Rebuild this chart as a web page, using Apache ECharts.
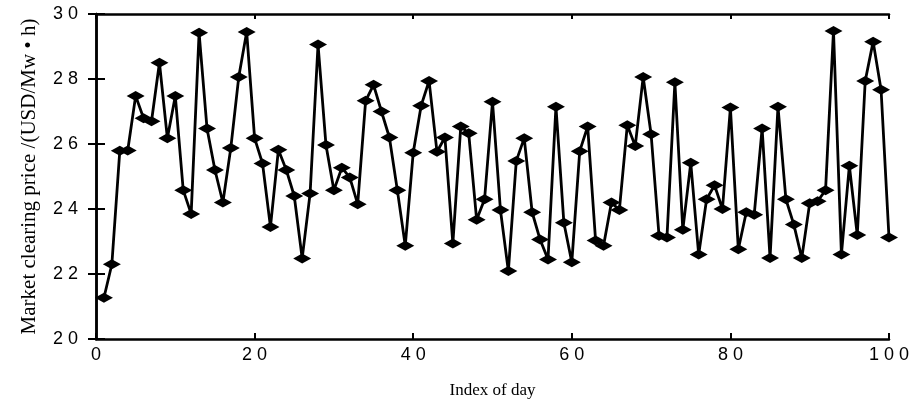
<!DOCTYPE html>
<html>
<head>
<meta charset="utf-8">
<script src="https://cdn.jsdelivr.net/npm/echarts@6/dist/echarts.min.js"></script>
<style>
  html, body { margin: 0; padding: 0; background: #fff; }
  #chart { width: 913px; height: 404px; }
</style>
</head>
<body>
<div id="chart"></div>
<script>
// day index 1..100 and market clearing price
const days = Array.from({ length: 100 }, (_, i) => i + 1)
const prices = [
  21.27, 22.3, 25.79, 25.8, 27.48, 26.79, 26.7, 28.5, 26.18, 27.48,
  24.58, 23.85, 29.42, 26.48, 25.2, 24.2, 25.88, 28.06, 29.45, 26.18,
  25.4, 23.45, 25.82, 25.2, 24.4, 22.48, 24.48, 29.06, 25.97, 24.58,
  25.27, 24.97, 24.15, 27.33, 27.82, 27.0, 26.2, 24.58, 22.87, 25.73,
  27.18, 27.94, 25.76, 26.2, 22.94, 26.54, 26.33, 23.67, 24.3, 27.3,
  23.97, 22.09, 25.48, 26.18, 23.9, 23.06, 22.45, 27.15, 23.58, 22.36,
  25.78, 26.54, 23.03, 22.87, 24.2, 23.97, 26.58, 25.94, 28.06, 26.3,
  23.18, 23.12, 27.9, 23.36, 25.42, 22.6, 24.3, 24.73, 24.0, 27.12,
  22.76, 23.9, 23.82, 26.48, 22.49, 27.15, 24.3, 23.52, 22.49, 24.18,
  24.24, 24.58, 29.48, 22.6, 25.33, 23.2, 27.94, 29.15, 27.67, 23.12
]
const xTicks = [0, 20, 40, 60, 80, 100]
const yTicks = [20, 22, 24, 26, 28, 30]

// tick labels in the figure are printed with spaced digits, e.g. "2 0"
const spaced = v => String(v).split('').join(' ')

const chart = echarts.init(document.getElementById('chart'))

const tickLabel = {
    fontFamily: 'Liberation Sans',
    fontSize: 18,
    color: '#000'
}

const option = {
    animation: false,
    backgroundColor: '#fff',
    grid: {
        left: 96,
        right: 24,
        top: 14,
        bottom: 60
    },
    xAxis: [
        {
            type: 'value',
            min: xTicks[0],
            max: xTicks[xTicks.length - 1],
            interval: 20,
            name: 'Index of day',
            nameLocation: 'middle',
            nameGap: 43,
            nameTextStyle: { fontFamily: 'Liberation Serif', fontSize: 17, color: '#000' },
            axisLine: { lineStyle: { color: '#000', width: 2.5 } },
            axisTick: { inside: true, length: 6, lineStyle: { color: '#000', width: 2 } },
            axisLabel: { ...tickLabel, margin: 7, formatter: spaced },
            splitLine: { show: false }
        },
        {
            type: 'value',
            position: 'top',
            min: 0,
            max: 100,
            interval: 20,
            axisLine: { show: true, lineStyle: { color: '#000', width: 2.5 } },
            axisTick: { inside: true, length: 5, lineStyle: { color: '#000', width: 2 } },
            axisLabel: { show: false },
            splitLine: { show: false }
        }
    ],
    yAxis: [
        {
            type: 'value',
            min: yTicks[0],
            max: yTicks[yTicks.length - 1],
            interval: 2,
            name: 'Market clearing price /(USD/Mw • h)',
            nameLocation: 'middle',
            nameGap: 56,
            nameTextStyle: { fontFamily: 'Liberation Serif', fontSize: 21, color: '#000' },
            axisLine: { show: true, lineStyle: { color: '#000', width: 2.5 } },
            axisTick: { inside: true, length: 9, lineStyle: { color: '#000', width: 2 } },
            axisLabel: { ...tickLabel, margin: 18, formatter: spaced },
            splitLine: { show: false }
        },
        {
            type: 'value',
            position: 'right',
            min: 20,
            max: 30,
            interval: 2,
            axisLine: { show: true, lineStyle: { color: '#000', width: 2.5 } },
            axisTick: { inside: true, length: 8, lineStyle: { color: '#000', width: 2 } },
            axisLabel: { show: false },
            splitLine: { show: false }
        }
    ],
    series: [
        {
            type: 'line',
            data: days.map((d, i) => [d, prices[i]]),
            symbol: 'diamond',
            symbolSize: [18, 10],
            itemStyle: { color: '#000' },
            lineStyle: { color: '#000', width: 2.8 }
        }
    ]
}

chart.setOption(option)
</script>
</body>
</html>
